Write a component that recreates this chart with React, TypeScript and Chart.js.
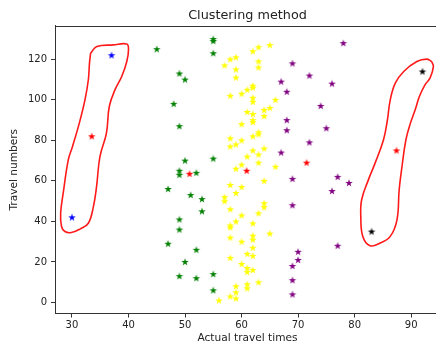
import React, { useEffect, useRef } from 'react';
import { Chart, registerables } from 'chart.js';

Chart.register(...registerables);

// ---- Data ----
const xTicks = [30, 40, 50, 60, 70, 80, 90];
const yTicks = [0, 20, 40, 60, 80, 100, 120];
const xLimits = [27.0, 95.1];
const yLimits = [-5.45, 136.45];

const greenPoints: number[][] = [
  [45, 125], [55, 130], [55, 129], [55, 123], [49, 113], [50, 110], [48, 98], [49, 87],
  [50, 70], [49, 65], [49, 63], [52, 64], [55, 71], [47, 56], [51, 53], [53, 51], [53, 45],
  [49, 41], [49, 36], [47, 29], [52, 26], [50, 20], [49, 13], [52, 12], [55, 14], [55, 6],
];

const yellowPoints: number[][] = [
  [65, 127], [63, 126], [62, 124], [59, 121], [58, 120], [63, 119], [57, 117], [63, 116],
  [59, 115], [59, 111], [62, 107], [62, 106], [61, 105], [58, 102], [60, 103], [62, 101],
  [62, 99], [66, 100], [65, 96], [64, 95], [61, 94], [62, 93], [64, 92], [62, 90], [62, 89],
  [60, 88], [63, 84], [63, 83], [62, 82], [58, 81], [60, 80], [59, 78], [58, 77], [64, 76],
  [62, 75], [63, 73], [61, 72], [63, 69], [60, 68], [66, 67], [59, 66], [64, 60], [58, 58],
  [60, 57], [59, 54], [57, 52], [57, 50], [64, 49], [64, 47], [58, 46], [63, 44], [60, 43],
  [59, 40], [62, 39], [58, 38], [58, 37], [65, 34], [62, 33], [62, 31], [58, 32], [60, 30],
  [62, 27], [61, 24], [62, 23], [58, 22], [60, 19], [61, 17], [62, 16], [61, 15], [63, 10],
  [61, 9], [59, 8], [61, 7], [59, 5], [58, 3], [59, 2], [56, 1],
];

const purplePoints: number[][] = [
  [78, 128], [69, 118], [72, 112], [67, 109], [76, 108], [68, 104], [74, 97], [68, 90],
  [68, 85], [75, 86], [72, 79], [67, 74], [69, 61], [77, 62], [79, 59], [76, 55], [69, 48],
  [77, 28], [70, 25], [70, 21], [69, 18], [69, 11], [69, 4],
];

const redPoints: number[][] = [[33.5, 82], [50.8, 63.5], [60.9, 65], [71.5, 69], [87.4, 75]];
const bluePoints: number[][] = [[37, 122], [30, 42]];
const blackPoints: number[][] = [[92, 114], [83, 35]];

// hand-drawn outlines around the outliers
const leftLoop: number[][] = [
  [33.3, 123], [34.4, 126.3], [37.3, 127.1], [39.7, 127.5], [40.0, 124.7], [39.7, 118.9],
  [38.8, 111.5], [37.6, 104.9], [36.6, 96.7], [36.1, 83.6], [34.95, 72.0], [34.35, 57.2],
  [33.8, 47.4], [32.9, 39.1], [31.4, 36.2], [29.9, 34.5], [28.75, 35.0], [28.15, 37.5],
  [28.0, 44.1], [28.45, 53.9], [29.35, 70.4], [30.1, 77.0], [31.3, 88.5], [32.3, 100],
  [32.9, 109.9], [33.1, 118.1], [33.3, 123],
];

const rightLoop: number[][] = [
  [93.63, 118.9], [92.74, 120.1], [91.0, 118.9], [88.68, 114.0], [87.19, 108.2], [86.3, 100],
  [85.8, 90.1], [85.11, 80.3], [83.62, 68.75], [82.43, 60.5], [81.24, 50.7], [81.09, 42.4],
  [81.44, 32.6], [82.73, 28.0], [84.51, 29.3], [86.3, 32.6], [87.49, 40.8], [87.88, 55.6],
  [88.38, 67.1], [89.07, 80.3], [89.87, 88.5], [90.71, 95.1], [91.45, 101.6], [92.44, 107.4],
  [93.33, 110.7], [93.93, 116.4], [93.63, 118.9],
];

const FONT = 'DejaVu Sans';
const TEXT = '#222';
const AXIS = '#333';

function starImage(color: string): HTMLCanvasElement {
  const c = document.createElement('canvas');
  c.width = 10;
  c.height = 10;
  const ctx = c.getContext('2d')!;
  const R = 4;
  const r = R * 0.381966;
  ctx.fillStyle = color;
  ctx.beginPath();
  for (let i = 0; i < 10; i++) {
    const a = -Math.PI / 2 + (i * Math.PI) / 5;
    const rad = i % 2 === 0 ? R : r;
    const px = 5 + rad * Math.cos(a);
    const py = 5.3 + rad * Math.sin(a);
    if (i === 0) ctx.moveTo(px, py);
    else ctx.lineTo(px, py);
  }
  ctx.closePath();
  ctx.fill();
  return c;
}

const toXY = (arr: number[][]) => arr.map(([x, y]) => ({ x, y }));

const framePlugin = {
  id: 'frame',
  afterDatasetsDraw(chart: any) {
    const { ctx, chartArea } = chart;
    const { left, top, right, bottom } = chartArea;
    ctx.save();
    ctx.strokeStyle = AXIS;
    ctx.lineWidth = 1;
    ctx.beginPath();
    ctx.moveTo(Math.round(left) + 0.5, Math.round(top) + 0.5);
    ctx.lineTo(Math.round(right) + 0.5, Math.round(top) + 0.5);
    ctx.lineTo(Math.round(right) + 0.5, Math.round(bottom) + 0.5);
    ctx.stroke();
    ctx.restore();
  },
};

export default function App() {
  const ref = useRef<HTMLCanvasElement | null>(null);

  useEffect(() => {
    if (!ref.current) return;
    const scatterSet = (label: string, pts: number[][], color: string) => ({
      label,
      data: toXY(pts),
      pointStyle: starImage(color) as any,
      pointRadius: 4,
      pointHoverRadius: 4,
      showLine: false,
      backgroundColor: color,
      borderColor: color,
    });
    const loopSet = (label: string, pts: number[][]) => ({
      label,
      data: toXY(pts),
      showLine: true,
      pointRadius: 0,
      borderColor: '#ff1a1a',
      borderWidth: 1.6,
      tension: 0.4,
      fill: false,
    });

    const chart = new Chart(ref.current, {
      type: 'scatter',
      data: {
        datasets: [
          scatterSet('green', greenPoints, '#008000'),
          scatterSet('yellow', yellowPoints, '#ffff00'),
          scatterSet('purple', purplePoints, '#800080'),
          scatterSet('blue', bluePoints, '#0000ff'),
          scatterSet('black', blackPoints, '#000000'),
          scatterSet('red', redPoints, '#ff0000'),
          loopSet('left outline', leftLoop) as any,
          loopSet('right outline', rightLoop) as any,
        ],
      },
      options: {
        responsive: false,
        animation: false,
        layout: { padding: 0, autoPadding: false },
        plugins: {
          legend: { display: false },
          tooltip: { enabled: false },
          title: {
            display: true,
            text: 'Clustering method',
            fullSize: false,
            color: TEXT,
            font: { family: FONT, size: 12.8, weight: 'normal' },
            padding: { top: 7.5, bottom: 3.1 },
          },
        },
        scales: {
          x: {
            type: 'linear',
            min: xLimits[0],
            max: xLimits[1],
            afterBuildTicks: (s: any) => {
              s.ticks = xTicks.map((v) => ({ value: v }));
            },
            afterFit: (s: any) => {
              s.height = 31.5;
            },
            grid: { drawOnChartArea: false, tickLength: 4, color: AXIS },
            border: { display: true, color: AXIS },
            ticks: {
              autoSkip: false,
              maxRotation: 0,
              padding: 2,
              color: TEXT,
              font: { family: FONT, size: 10 },
            },
            title: {
              display: true,
              text: 'Actual travel times',
              color: TEXT,
              font: { family: FONT, size: 10.6 },
              padding: { top: 0, bottom: 0 },
            },
          },
          y: {
            type: 'linear',
            min: yLimits[0],
            max: yLimits[1],
            afterBuildTicks: (s: any) => {
              s.ticks = yTicks.map((v) => ({ value: v }));
            },
            afterFit: (s: any) => {
              s.width = 55;
            },
            grid: { drawOnChartArea: false, tickLength: 4, color: AXIS },
            border: { display: true, color: AXIS },
            ticks: {
              autoSkip: false,
              padding: 4,
              color: TEXT,
              font: { family: FONT, size: 10 },
            },
            title: {
              display: true,
              text: 'Travel numbers',
              color: TEXT,
              font: { family: FONT, size: 10.6 },
              padding: { top: 7.5, bottom: 0 },
            },
          },
        },
      },
      plugins: [framePlugin],
    });
    return () => chart.destroy();
  }, []);

  return (
    <div
      style={{
        position: 'fixed',
        left: 0,
        top: 0,
        width: 436,
        height: 345,
        overflow: 'hidden',
        background: '#fff',
      }}
    >
      <canvas ref={ref} width={440} height={345} style={{ display: 'block' }} />
    </div>
  );
}
